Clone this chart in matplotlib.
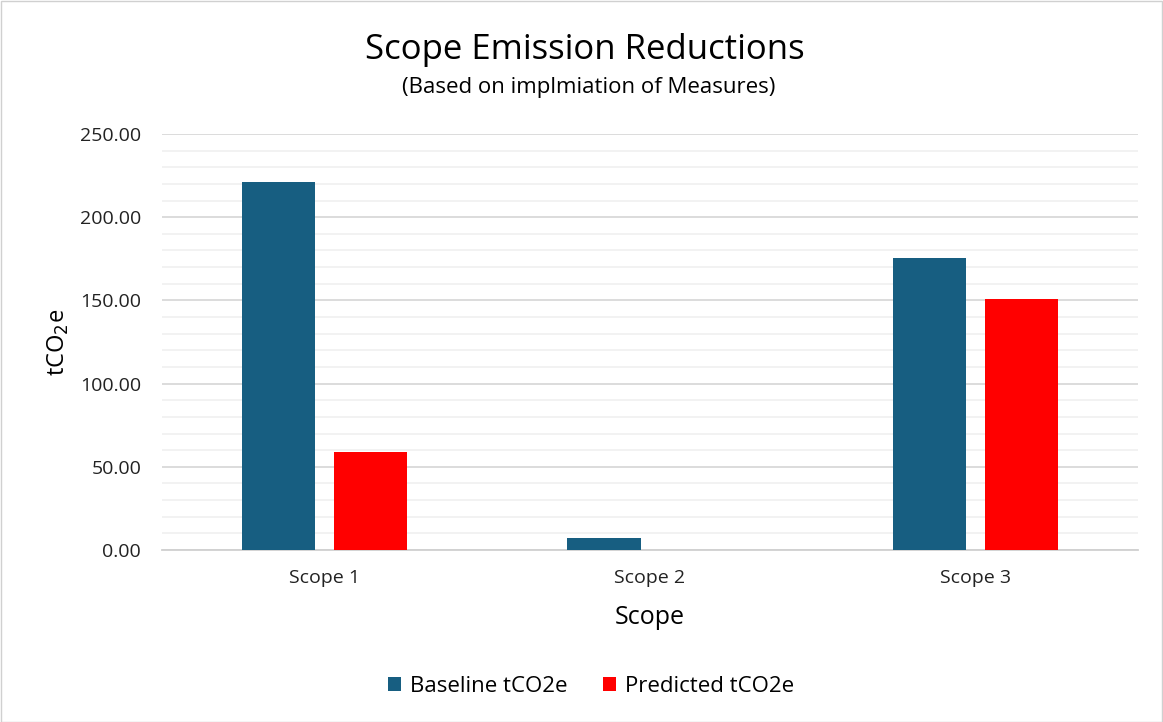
import matplotlib.pyplot as plt
import numpy as np
from matplotlib.ticker import MultipleLocator, FormatStrFormatter

# values
categories = ["Scope 1", "Scope 2", "Scope 3"]
baseline = [221.0, 7.2, 175.5]
predicted = [59.0, 0.0, 150.8]

W, H = 1163, 722
fig = plt.figure(figsize=(W / 100, H / 100), dpi=100)
plt.rcParams['font.family'] = ['Open Sans', 'DejaVu Sans']

# light frame around the whole chart
fig.patches.append(plt.Rectangle((0.5 / W, 0.5 / H), 1 - 1.5 / W, 1 - 1.5 / H,
                                 transform=fig.transFigure, fill=False,
                                 edgecolor="#d0d0d0", linewidth=1))

left, right, top, bottom = 162, 1138, 134, 550
ax = fig.add_axes([left / W, 1 - bottom / H, (right - left) / W, (bottom - top) / H])

x = np.arange(len(categories))
bw = 0.225
off = 0.1415
ax.bar(x - off, baseline, bw, color="#175e81", label="Baseline tCO2e", zorder=3)
ax.bar(x + off, predicted, bw, color="#ff0000", label="Predicted tCO2e", zorder=3)

ax.set_xlim(-0.5, 2.5)
ax.set_ylim(0, 250)
ax.yaxis.set_major_locator(MultipleLocator(50))
ax.yaxis.set_minor_locator(MultipleLocator(10))
ax.yaxis.set_major_formatter(FormatStrFormatter("%.2f"))
ax.grid(axis="y", which="major", color="#d9d9d9", linewidth=1.3, zorder=0)
ax.grid(axis="y", which="minor", color="#f0f0f0", linewidth=1.2, zorder=0)
for s in ["top", "right", "left"]:
    ax.spines[s].set_visible(False)
ax.spines["bottom"].set_color("#d0d0d0")
ax.spines["bottom"].set_linewidth(1.3)
ax.tick_params(axis="both", which="both", length=0, labelsize=14, colors="#222222")
ax.tick_params(axis="y", pad=15)
ax.tick_params(axis="x", pad=14)
ax.set_xticks(x)
ax.set_xticklabels(categories)

ax.set_ylabel("tCO$_2$e", fontsize=17)
ax.yaxis.set_label_coords(-(left - 58) / (right - left), 0.5)
ax.set_xlabel("Scope", fontsize=18)
ax.xaxis.set_label_coords(0.5, -(617 - bottom) / (bottom - top))
ax.xaxis.label.set_va("center")
ax.yaxis.label.set_va("center")

fig.text(585 / W, 1 - 50 / H, "Scope Emission Reductions",
         ha="center", va="center", fontsize=25)
fig.text(589 / W, 1 - 87 / H, "(Based on implmiation of Measures)",
         ha="center", va="center", fontsize=16)

fig.legend(loc="center", bbox_to_anchor=(591 / W, 1 - 686 / H), ncol=2,
           frameon=False, fontsize=16, handlelength=0.6, handleheight=0.6,
           handletextpad=0.4, columnspacing=1.6)

fig.savefig("out.png", dpi=100)
